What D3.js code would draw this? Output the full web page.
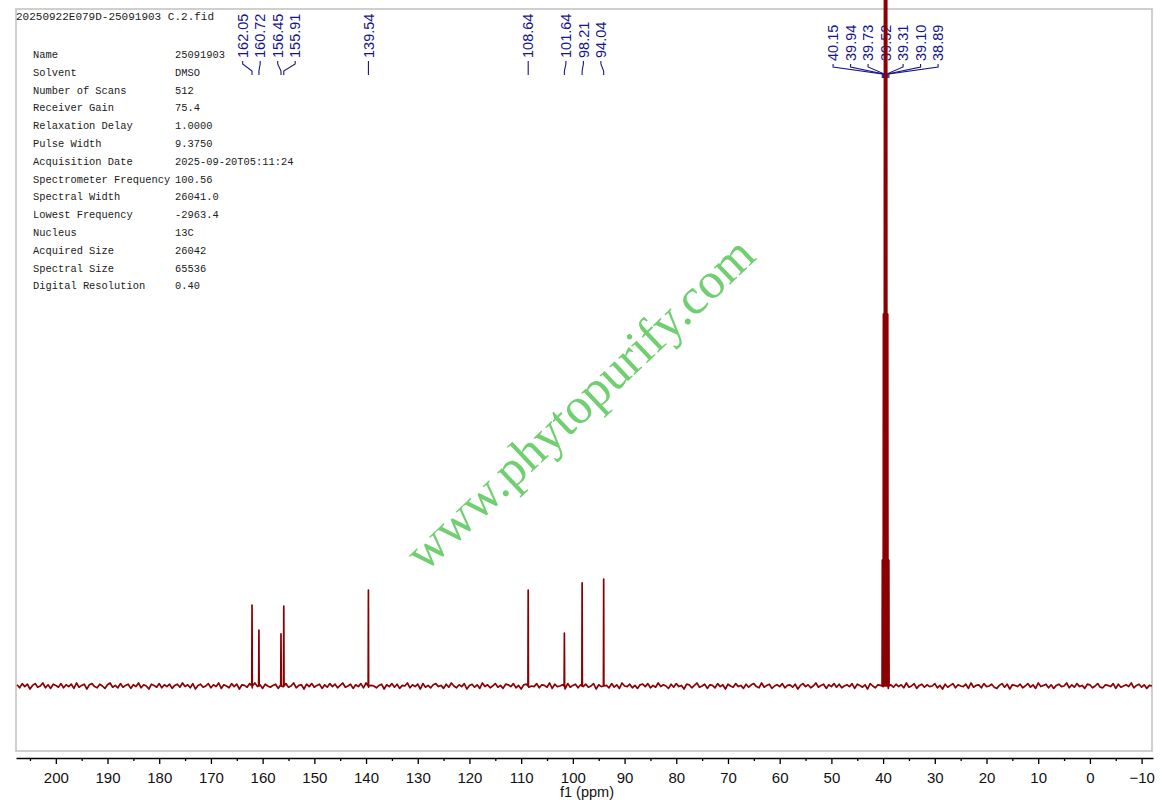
<!DOCTYPE html>
<html><head><meta charset="utf-8">
<script src="https://cdn.jsdelivr.net/npm/d3@7"></script>
<style>body{margin:0;background:#fff}svg{display:block}</style>
</head><body><svg id="c" width="1162" height="806"></svg>
<script>
// ---------- data ----------
const titleText = "20250922E079D-25091903 C.2.fid";
const paramNames = ["Name","Solvent","Number of Scans","Receiver Gain","Relaxation Delay","Pulse Width","Acquisition Date","Spectrometer Frequency","Spectral Width","Lowest Frequency","Nucleus","Acquired Size","Spectral Size","Digital Resolution"];
const paramValues = ["25091903","DMSO","512","75.4","1.0000","9.3750","2025-09-20T05:11:24","100.56","26041.0","-2963.4","13C","26042","65536","0.40"];
const peakShifts = [162.05,160.72,156.45,155.91,139.54,108.64,101.64,98.21,94.04,40.15,39.94,39.73,39.52,39.31,39.10,38.89];
const peakHeights = [13.5,9.3,8.7,13.3,16.0,16.0,8.8,17.2,17.8,21,62,140,160,140,62,21];
const labelGroups = [[0,1,2,3],[4],[5],[6,7,8],[9,10,11,12,13,14,15]];
const majorTicks = [200,190,180,170,160,150,140,130,120,110,100,90,80,70,60,50,40,30,20,10,0,-10];
const minorTicks = [205,195,185,175,165,155,145,135,125,115,105,95,85,75,65,55,45,35,25,15,5,-5];
const axisTitle = "f1 (ppm)";
const watermark = "www.phytopurify.com";
const noiseStart = 207.5, noiseStep = 0.5;
const noise = [
0.2,-0.3,0.4,-0.1,0.3,-0.5,0.1,0.4,-0.2,0.0,0.5,-0.3,0.2,-0.4,0.3,0.1,-0.2,0.4,-0.3,0.2,
-0.1,0.3,-0.4,0.5,-0.2,0.1,0.3,-0.5,0.2,0.4,-0.1,-0.3,0.3,0.0,-0.4,0.2,0.5,-0.2,0.1,-0.3,
0.4,-0.2,0.1,0.3,-0.4,0.2,-0.1,0.5,-0.3,0.2,0.0,-0.5,0.3,0.1,-0.2,0.4,-0.3,0.2,-0.1,0.3,
-0.4,0.1,0.3,-0.2,0.5,-0.1,0.2,-0.3,0.4,-0.5,0.1,0.3,-0.2,0.0,0.4,-0.3,0.2,-0.1,0.5,-0.4,
0.2,0.0,-0.3,0.4,-0.1,0.3,-0.5,0.2,0.1,-0.2,0.4,-0.3,0.5,-0.1,0.2,-0.4,0.3,0.0,-0.2,0.1,
0.3,-0.4,0.2,-0.1,0.4,-0.2,0.0,0.5,-0.3,0.1,0.2,-0.5,0.3,-0.1,0.4,-0.2,0.1,0.3,-0.4,0.2,
-0.2,0.4,-0.1,0.3,-0.3,0.1,0.5,-0.2,0.0,0.3,-0.4,0.2,-0.1,0.4,-0.3,0.5,-0.2,0.1,0.0,-0.3,
0.1,0.3,-0.5,0.2,-0.1,0.4,-0.2,0.3,-0.4,0.1,0.0,0.5,-0.3,0.2,-0.1,0.3,-0.5,0.4,-0.2,0.1,
-0.3,0.2,0.4,-0.1,0.1,-0.4,0.3,-0.2,0.5,0.0,-0.3,0.2,-0.1,0.4,-0.5,0.1,0.3,-0.2,0.2,-0.4,
0.5,-0.1,0.2,-0.3,0.0,0.4,-0.2,0.1,-0.4,0.3,0.2,-0.1,0.4,-0.3,0.1,-0.5,0.2,0.3,-0.2,0.0,
-0.1,0.4,-0.3,0.2,0.1,-0.2,0.5,-0.4,0.3,-0.1,0.0,0.2,-0.5,0.4,-0.2,0.1,0.3,-0.3,0.2,-0.1,
0.3,-0.2,0.0,0.4,-0.5,0.2,-0.1,0.3,0.1,-0.3,0.4,-0.2,0.2,-0.4,0.5,0.0,-0.1,0.3,-0.3,0.1,
-0.4,0.2,0.3,-0.1,0.4,-0.3,0.1,-0.2,0.5,-0.1,0.2,0.0,-0.4,0.3,-0.2,0.4,-0.1,0.1,-0.5,0.3,
0.2,-0.3,0.1,0.5,-0.2,0.0,0.3,-0.4,0.2,0.1,-0.3,0.4,-0.1,0.2,-0.5,0.3,0.0,-0.2,0.4,-0.1,
0.1,-0.4,0.3,-0.2,0.2,0.4,-0.1,-0.3,0.5,-0.2,0.1,0.3,-0.4,0.0,0.2,-0.1,0.4,-0.3,0.1,0.2,
-0.2,0.3,-0.5,0.1,0.4,-0.1,0.2,-0.3,0.0,0.5,-0.2,0.1,0.3,-0.4,0.2,-0.1,0.4,-0.2,0.3,-0.3,
0.0,0.2,-0.1,0.4,-0.4,0.3,0.1,-0.2,0.2,-0.5,0.4,0.0,-0.3,0.2,0.1,-0.1,0.5,-0.4,0.2,-0.2,
0.3,-0.1,0.2,-0.3,0.5,-0.2,0.0,0.4,-0.4,0.1,0.3,-0.2,0.2,-0.1,0.0,0.4,-0.3,0.1,-0.5,0.3,
-0.2,0.1,0.4,-0.3,0.2,0.0,-0.1,0.3,-0.4,0.5,-0.2,0.1,0.2,-0.3,0.4,-0.1,0.0,0.3,-0.2,-0.4,
0.1,0.4,-0.2,0.3,-0.5,0.2,0.1,-0.1,0.3,-0.3,0.0,0.4,-0.2,0.2,-0.4,0.5,-0.1,0.1,0.3,-0.3,
0.2,-0.4,0.1,0.3,-0.1,0.0,0.5,-0.3,0.2,-0.2,0.4,-0.1,0.1,-0.4,0.3,0.2,-0.3,0.0,0.4,-0.2,
-0.3,0.2,0.1,-0.1,0.4,-0.4,0.3,-0.2,0.0,0.2,-0.1,0.5,-0.3,0.1,0.3,-0.2,0.2,-0.4,0.1,0.0
];

// ---------- layout ----------
const svg = d3.select("#c");
const frame = {x0:16, y0:9, x1:1152, y1:751};
const x = d3.scaleLinear().domain([207.7, -12.2]).range([16, 1153]);
const y = d3.scaleLinear().domain([0, 100]).range([686, 86]);
const labelColor = "#15158c";
const specColor = "#8b0000";

// frame
svg.append("rect").attr("x", frame.x0).attr("y", frame.y0)
  .attr("width", frame.x1 - frame.x0).attr("height", frame.y1 - frame.y0)
  .attr("fill", "none").attr("stroke", "#c4c4c4").attr("stroke-width", 1.6);

// title
svg.append("text").attr("x", 16).attr("y", 20).text(titleText)
  .attr("font-family", "Liberation Mono, monospace").attr("font-size", 11).attr("fill", "#1a1a1a");

// parameters table
const tbl = svg.append("g").attr("font-family", "Liberation Mono, monospace").attr("font-size", 10.4).attr("fill", "#1a1a1a");
paramNames.forEach((n, i) => {
  const yy = 58 + i * 17.8;
  tbl.append("text").attr("x", 33).attr("y", yy).text(n);
  tbl.append("text").attr("x", 175).attr("y", yy).text(paramValues[i]);
});

// axis
const axisY = 758;
const gMinor = svg.append("g").attr("transform", `translate(0,${axisY})`)
  .call(d3.axisBottom(x).tickValues(minorTicks).tickSize(3).tickSizeOuter(0).tickFormat(""));
gMinor.select(".domain").remove();
gMinor.selectAll("line").attr("stroke", "#000").attr("stroke-width", 1.3);
const gMajor = svg.append("g").attr("transform", `translate(0,${axisY})`)
  .call(d3.axisBottom(x).tickValues(majorTicks).tickSize(6).tickSizeOuter(0).tickFormat(d3.format("d")));
gMajor.select(".domain").attr("stroke", "#000").attr("stroke-width", 1.6);
gMajor.selectAll("line").attr("stroke", "#000").attr("stroke-width", 1.3);
gMajor.selectAll("text").attr("y", 14).attr("font-family", "Liberation Sans, Arial, sans-serif")
  .attr("font-size", 15).attr("fill", "#111");
svg.append("text").attr("x", 587).attr("y", 797).attr("text-anchor", "middle")
  .attr("font-family", "Liberation Sans, Arial, sans-serif").attr("font-size", 14.5).attr("fill", "#111").text(axisTitle);

// peak labels
const labG = svg.append("g");
labelGroups.forEach((grp, gi) => {
  const xs = grp.map(i => x(peakShifts[i]));
  const center = d3.mean(xs);
  const sp = 17.5;
  const bottom = gi === labelGroups.length - 1 ? 61 : 58;
  grp.forEach((pi, k) => {
    const lx = center + (k - (grp.length - 1) / 2) * sp;
    const px = x(peakShifts[pi]);
    labG.append("text")
      .attr("transform", `translate(${lx},${bottom}) rotate(-90)`)
      .attr("dy", "0.36em")
      .attr("font-family", "Liberation Sans, Arial, sans-serif").attr("font-size", 14.5)
      .attr("fill", labelColor).text(peakShifts[pi].toFixed(2));
    labG.append("path")
      .attr("d", d3.line()([[lx, bottom + 3], [lx, bottom + 6], [px, bottom + 13], [px, bottom + 17]]))
      .attr("fill", "none").attr("stroke", labelColor).attr("stroke-width", 1.1);
  });
});

// spectrum
const pts = noise.map((v, i) => [noiseStart - i * noiseStep, v]);
peakShifts.forEach((s, i) => {
  pts.push([s + 0.05, 0], [s, peakHeights[i]], [s - 0.05, 0]);
});
pts.sort((a, b) => b[0] - a[0]);
svg.append("path")
  .attr("d", d3.line().x(d => x(d[0])).y(d => y(d[1]))(pts))
  .attr("fill", "none").attr("stroke", specColor).attr("stroke-width", 1.7).attr("stroke-linejoin", "round");

// watermark
svg.append("text")
  .attr("transform", "translate(425,573) rotate(-43.4)")
  .attr("font-family", "Liberation Serif, Times New Roman, serif").attr("font-size", 51)
  .attr("fill", "#70cf70").text(watermark);
</script></body></html>
